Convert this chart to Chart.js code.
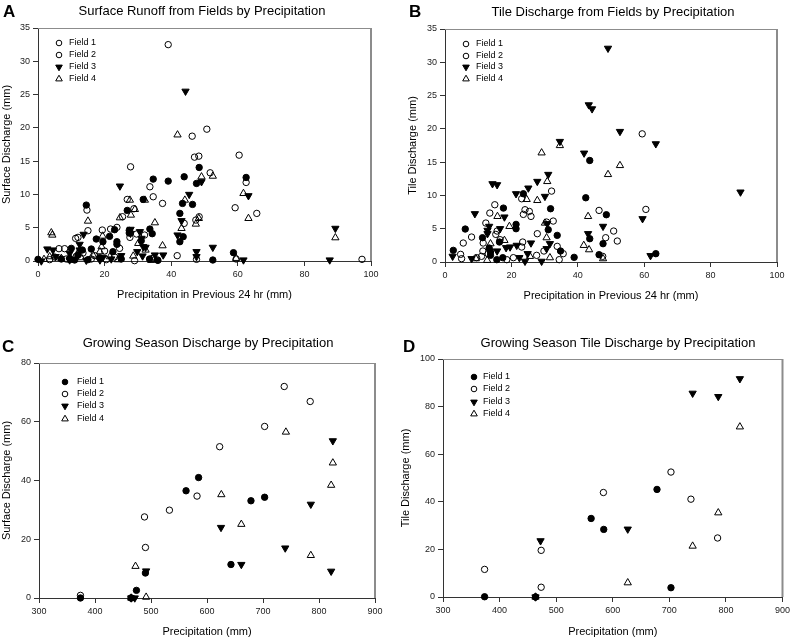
<!DOCTYPE html>
<html lang="en">
<head>
  <meta charset="UTF-8" />
  <title>Discharge by Precipitation</title>
  <script src="https://cdn.jsdelivr.net/npm/chart.js"></script>
  <style>
    html, body {
      margin: 0;
      padding: 0;
      background: #fff;
    }
    .panel { position: absolute; }
    #pA { left: 0; top: 0; }
    #pB { left: 400px; top: 0; }
    #pC { left: 0; top: 320px; }
    #pD { left: 400px; top: 320px; }
  </style>
</head>
<body>
  <div class="panel" id="pA"><canvas id="chartA" width="400" height="320"></canvas></div>
  <div class="panel" id="pB"><canvas id="chartB" width="393" height="320"></canvas></div>
  <div class="panel" id="pC"><canvas id="chartC" width="400" height="319"></canvas></div>
  <div class="panel" id="pD"><canvas id="chartD" width="393" height="319"></canvas></div>

  <script>
    const FONT = "'Liberation Sans', Arial, sans-serif";
    const fieldNames = ['Field 1', 'Field 2', 'Field 3', 'Field 4'];

    // A - surface runoff vs precipitation in previous 24 hr, [precip, discharge]
    const runoffField1 = [[0,0.25],[14.5,8.4],[10,1.9],[13.3,1.65],[16,1.8],[17.5,3.3],[19.5,2.9],[21.5,3.7],[23,4.7],[23.7,2.9],[23.7,2.5],[26.8,7.6],[27.4,4.6],[27.4,4.2],[31.6,9.25],[34.6,12.3],[33.6,4.8],[34.3,4.1],[39.1,12],[31,3.05],[42.6,7.15],[42.6,2.9],[43.6,3.65],[43.4,8.65],[43.9,12.65],[46.4,8.5],[47.6,11.65],[48.4,14.05],[52.5,0.15],[58.7,1.25],[62.5,12.55],[7,0.3],[9.5,0.4],[12,0.9],[15,0.2],[18.5,0.5],[22.5,1.4],[25,0.3],[33.5,0.3],[36,0.1],[11,0.15]];
    const runoffField2 = [[39.1,32.5],[46.3,18.75],[50.7,19.8],[47,15.6],[48.3,15.75],[60.4,15.9],[27.8,14.15],[51.7,13.25],[62.5,11.8],[59.2,8],[65.7,7.15],[48.4,6.65],[47.4,6.15],[43.9,5.65],[37.4,8.65],[33.6,11.15],[34.6,9.65],[26.8,9.25],[28.8,7.85],[25.4,6.65],[23.7,5.05],[21.8,4.8],[19.3,4.65],[15,4.55],[14.7,7.65],[11.3,3.4],[12,3.55],[6.3,1.85],[8,1.85],[41.8,0.8],[47.6,0.25],[59.5,0.3],[97.3,0.25],[27.6,3.55],[29,0.05],[29.6,4.05],[32,3.9],[34.4,0.4],[35.9,0.15],[17,0.8],[3.5,0.2],[5,0.6],[8.5,0.3],[11.5,0.7],[13.5,1.2],[16,0.3],[20,1.5],[23,0.6],[24.5,1.9],[20.5,0.2]];
    const runoffField3 = [[44.3,25.5],[24.6,11.25],[49.1,11.9],[45.4,10],[63.2,9.8],[13.7,4],[43.1,6.05],[41.9,3.9],[27.8,4.75],[30.6,4.4],[27.8,4.15],[31.1,3.4],[31.6,2.15],[32.3,2.05],[29.8,1.4],[31.4,0.75],[35.1,0.9],[37.6,0.9],[47.6,1.4],[47.6,0.65],[52.5,2.05],[61.7,0.15],[87.6,0.15],[89.3,4.9],[2.8,1.8],[4.5,1.65],[5.3,0.65],[9.5,1.15],[12.5,2.5],[12.5,1.65],[9.5,0.15],[1,0],[18.6,0.15],[19.5,0.55],[14.5,0.1],[22,0.3],[25,0.8]];
    const runoffField4 = [[41.9,18.95],[4,4.25],[4.3,3.9],[15,6],[27.6,9.15],[32.1,9.15],[29.1,7.75],[27.9,6.9],[24.6,6.5],[44.1,9.15],[49.1,12.65],[52.5,12.75],[61.7,10.15],[63.2,6.4],[35.1,5.75],[43.1,4.9],[47.4,5.55],[48.3,6.4],[37.4,2.3],[89.3,3.5],[59.5,0.4],[28.6,0.75],[19.4,3.75],[19.1,2.15],[12.5,1.65],[1.8,0.25],[3.5,0.65],[7,0.4],[18.6,1.4],[21.6,0.65],[30.1,2.65],[32.3,1.65],[10,0.1],[13,0.5],[16.5,0.9],[24,0.2],[34,0.1]];

    // B - tile discharge vs precipitation in previous 24 hr
    const tileField1 = [[43.6,15.25],[42.4,9.65],[48.6,7.1],[47.6,2.75],[43.6,3.5],[33.8,4],[34.8,1.65],[38.9,0.7],[31.8,8],[31.1,4.85],[23.6,10.25],[21.4,5.65],[21.4,5],[17.6,8.1],[16.4,3],[17.4,0.65],[15.6,0.35],[13.3,2.1],[13.7,1.5],[13.7,1],[11.3,3.65],[6.1,4.95],[2.5,1.75],[46.4,1.1],[63.5,1.25]];
    const tileField2 = [[59.4,19.25],[60.5,7.9],[46.4,7.75],[48.4,3.65],[50.8,4.65],[51.9,3.15],[47.5,0.85],[32.1,10.65],[32.6,6.15],[33.8,2.35],[35.6,1.25],[34.4,0.35],[27.8,4.25],[29.8,1.65],[30.6,6],[23.1,9.5],[24.1,7.85],[25.4,7.6],[23.6,7.15],[25.9,6.85],[23.4,3],[23.1,2.25],[20.6,0.65],[27.6,1],[15,8.6],[13.5,7.35],[12.3,5.85],[15.7,4.65],[16.6,3.35],[15.3,4.15],[8,3.75],[5.5,2.85],[4.7,1.15],[5,0.5],[11.5,2.85],[11.4,1.65],[11,0.85],[9.5,0.65],[18.6,0.35],[13,1.25]];
    const tileField3 = [[49.1,32.1],[43.3,23.6],[44.3,23],[52.7,19.6],[63.5,17.75],[34.6,18.1],[41.9,16.35],[31.1,13.15],[27.8,12.1],[25.1,11.1],[21.4,10.25],[30.1,9.85],[14.3,11.75],[15.7,11.6],[9,7.25],[17.9,6.75],[13.3,5.35],[12.8,4.75],[12.8,4.25],[16.6,5],[30.8,5.75],[43.1,4.25],[47.6,5.35],[59.5,6.5],[89,10.5],[61.9,0.95],[31.6,2.75],[30.6,2],[25.9,2.85],[24.9,1.25],[24.1,0.1],[22.4,0.65],[21.6,2.5],[19.6,2.25],[18.4,2.15],[15.7,1.65],[13.5,1.65],[29.1,0.1],[8,0.5],[2.3,0.85]];
    const tileField4 = [[29.1,16.4],[34.6,17.5],[52.7,14.5],[49.1,13.15],[30.8,12.1],[24.6,9.4],[27.8,9.25],[19.4,5.35],[15.8,6.85],[43.1,6.85],[30.1,5.85],[30.6,3.65],[13.7,2.75],[17.9,3.25],[41.8,2.5],[43.4,1.85],[47.6,0.5],[31.6,0.65],[25.6,0.85],[12.7,0.25],[9.3,0.5]];

    // C - growing season surface discharge vs precipitation
    const seasonSurfField1 = [[585,41],[562.6,36.5],[678.5,33.1],[702.9,34.3],[642.8,11.4],[490,8.5],[474,2.6],[374,0],[464.6,0]];
    const seasonSurfField2 = [[737.9,72],[784.3,66.9],[702.9,58.4],[622.6,51.5],[582.2,34.7],[532.9,29.9],[488.4,27.6],[490.1,17.2],[374,0.9],[464.6,0]];
    const seasonSurfField3 = [[824.7,53.5],[785.4,31.9],[625,24],[661.3,11.4],[739.7,17],[821.7,9.1],[491.3,9.2],[471,0],[464.6,0]];
    const seasonSurfField4 = [[740.9,56.5],[824.7,46],[821.7,38.4],[625.6,35.2],[661.3,25.1],[785.4,14.5],[472.3,10.8],[491.3,0.3],[464.6,0]];

    // D - growing season tile discharge vs precipitation
    const seasonTileField1 = [[678.2,45.2],[561.8,33],[584.1,28.4],[702.9,3.9],[373.5,0.1],[463.5,0]];
    const seasonTileField2 = [[702.9,52.5],[583.5,43.9],[738.2,41.1],[785.3,24.8],[473.5,19.6],[473.5,4.1],[373.5,11.6],[463.5,0]];
    const seasonTileField3 = [[824.7,91.7],[741.2,85.6],[786.5,84.2],[472.4,23.6],[626.5,28.5],[463.5,0]];
    const seasonTileField4 = [[824.7,71.5],[786.5,35.4],[741.2,21.4],[626.5,6],[463.5,0]];

    const dailyXTicks = [0, 20, 40, 60, 80, 100];
    const dailyYTicks = [0, 5, 10, 15, 20, 25, 30, 35];
    const seasonXTicks = [300, 400, 500, 600, 700, 800, 900];
    const seasonSurfYTicks = [0, 20, 40, 60, 80];
    const seasonTileYTicks = [0, 20, 40, 60, 80, 100];

    const symbols = [
      { pointStyle: 'circle', radius: 3.2, fill: true, rotation: 0 },
      { pointStyle: 'circle', radius: 3.2, fill: false, rotation: 0 },
      { pointStyle: 'triangle', radius: 4.2, fill: true, rotation: 180 },
      { pointStyle: 'triangle', radius: 4.2, fill: false, rotation: 0 }
    ];

    function drawMarker(ctx, sym, x, y, filled) {
      ctx.beginPath();
      if (sym.pointStyle === 'circle') {
        ctx.arc(x, y, 2.8, 0, Math.PI * 2);
      } else {
        const r = 3.8, s = sym.rotation === 180 ? -1 : 1;
        ctx.moveTo(x, y - s * r);
        ctx.lineTo(x + r * 0.87, y + s * r * 0.5);
        ctx.lineTo(x - r * 0.87, y + s * r * 0.5);
        ctx.closePath();
      }
      ctx.lineWidth = 1;
      ctx.strokeStyle = '#000';
      if (filled) { ctx.fillStyle = '#000'; ctx.fill(); }
      ctx.stroke();
    }

    // titles, axis titles, frame and in-plot legend
    const panelDecor = {
      id: 'panelDecor',
      afterDraw(chart, args, o) {
        const ctx = chart.ctx, a = chart.chartArea;
        ctx.save();
        ctx.strokeStyle = '#8c8c8c';
        ctx.lineWidth = 1;
        ctx.beginPath();
        ctx.moveTo(a.left, a.top + 0.5);
        ctx.lineTo(a.right, a.top + 0.5);
        ctx.stroke();
        ctx.lineWidth = 2;
        ctx.beginPath();
        ctx.moveTo(a.right, a.top);
        ctx.lineTo(a.right, a.bottom);
        ctx.stroke();

        ctx.fillStyle = '#000';
        ctx.textBaseline = 'middle';
        ctx.textAlign = 'left';
        ctx.font = `bold 17px ${FONT}`;
        ctx.fillText(o.letter, o.letterX, o.letterY);

        ctx.textAlign = 'center';
        ctx.font = `13px ${FONT}`;
        ctx.fillText(o.title, o.titleX, o.titleY);

        ctx.font = `11px ${FONT}`;
        ctx.fillText(o.xTitle, (a.left + a.right) / 2, o.xTitleY);
        ctx.save();
        ctx.translate(o.yTitleX, (a.top + a.bottom) / 2);
        ctx.rotate(-Math.PI / 2);
        ctx.fillText(o.yTitle, 0, 0);
        ctx.restore();

        ctx.textAlign = 'left';
        ctx.font = `9px ${FONT}`;
        o.legendY.forEach((y, i) => {
          const filled = symbols[i].fill && !(o.openFirst && i === 0);
          drawMarker(ctx, symbols[i], o.legendX, y, filled);
          ctx.fillStyle = '#000';
          ctx.fillText(fieldNames[i], o.legendTextX, y);
        });
        ctx.restore();
      }
    };

    function makePanel(id, p) {
      const canvas = document.getElementById(id);
      const W = canvas.width, H = canvas.height;
      const axisStyle = (ticks, fit) => ({
        type: 'linear',
        min: ticks[0],
        max: ticks[ticks.length - 1],
        afterBuildTicks: s => { s.ticks = ticks.map(v => ({ value: v })); },
        afterFit: fit,
        ticks: { color: '#222', font: { family: FONT, size: 9 }, padding: 3, maxRotation: 0 },
        grid: { display: true, drawOnChartArea: false, drawTicks: true, tickLength: 5, color: '#333' },
        border: { display: true, color: '#333', width: 1 }
      });

      return new Chart(canvas, {
        type: 'scatter',
        data: {
          datasets: p.series.map((pts, i) => ({
            label: fieldNames[i],
            data: pts.map(pt => ({ x: pt[0], y: pt[1] })),
            pointStyle: symbols[i].pointStyle,
            pointRotation: symbols[i].rotation,
            pointRadius: symbols[i].radius,
            pointBackgroundColor: symbols[i].fill ? '#000' : 'rgba(0,0,0,0)',
            pointBorderColor: '#000',
            pointBorderWidth: 1,
            clip: false
          }))
        },
        options: {
          responsive: false,
          animation: false,
          events: [],
          layout: { padding: { top: p.area.top, right: W - p.area.right, bottom: 0, left: 0 } },
          scales: {
            x: axisStyle(p.xTicks, s => { s.height = H - p.area.bottom; }),
            y: axisStyle(p.yTicks, s => { s.width = p.area.left; })
          },
          plugins: {
            legend: { display: false },
            tooltip: { enabled: false },
            panelDecor: p.decor
          }
        },
        plugins: [panelDecor]
      });
    }

    makePanel('chartA', {
      area: { left: 38, right: 371, top: 28, bottom: 261 },
      xTicks: dailyXTicks, yTicks: dailyYTicks,
      series: [runoffField1, runoffField2, runoffField3, runoffField4],
      decor: {
        letter: 'A', letterX: 3, letterY: 12,
        title: 'Surface Runoff from Fields by Precipitation', titleX: 202, titleY: 11,
        xTitle: 'Precipitation in Previous 24 hr (mm)', xTitleY: 295,
        yTitle: 'Surface Discharge (mm)', yTitleX: 7,
        legendX: 59, legendTextX: 69, legendY: [43, 55, 67, 79], openFirst: true
      }
    });

    makePanel('chartB', {
      area: { left: 45, right: 377, top: 29, bottom: 262 },
      xTicks: dailyXTicks, yTicks: dailyYTicks,
      series: [tileField1, tileField2, tileField3, tileField4],
      decor: {
        letter: 'B', letterX: 9, letterY: 12,
        title: 'Tile Discharge from Fields by Precipitation', titleX: 213, titleY: 12,
        xTitle: 'Precipitation in Previous 24 hr (mm)', xTitleY: 296,
        yTitle: 'Tile Discharge (mm)', yTitleX: 13,
        legendX: 66, legendTextX: 76, legendY: [44, 56, 67, 79], openFirst: true
      }
    });

    makePanel('chartC', {
      area: { left: 39, right: 375, top: 43, bottom: 278 },
      xTicks: seasonXTicks, yTicks: seasonSurfYTicks,
      series: [seasonSurfField1, seasonSurfField2, seasonSurfField3, seasonSurfField4],
      decor: {
        letter: 'C', letterX: 2, letterY: 27,
        title: 'Growing Season Discharge by Precipitation', titleX: 208, titleY: 23,
        xTitle: 'Precipitation (mm)', xTitleY: 312,
        yTitle: 'Surface Discharge (mm)', yTitleX: 7,
        legendX: 65, legendTextX: 77, legendY: [62, 74, 86, 99], openFirst: false
      }
    });

    makePanel('chartD', {
      area: { left: 43, right: 384, top: 39, bottom: 277 },
      xTicks: seasonXTicks, yTicks: seasonTileYTicks,
      series: [seasonTileField1, seasonTileField2, seasonTileField3, seasonTileField4],
      decor: {
        letter: 'D', letterX: 3, letterY: 27,
        title: 'Growing Season Tile Discharge by Precipitation', titleX: 218, titleY: 23,
        xTitle: 'Precipitation (mm)', xTitleY: 312,
        yTitle: 'Tile Discharge (mm)', yTitleX: 6,
        legendX: 74, legendTextX: 83, legendY: [57, 69, 82, 94], openFirst: false
      }
    });
  </script>
</body>
</html>
